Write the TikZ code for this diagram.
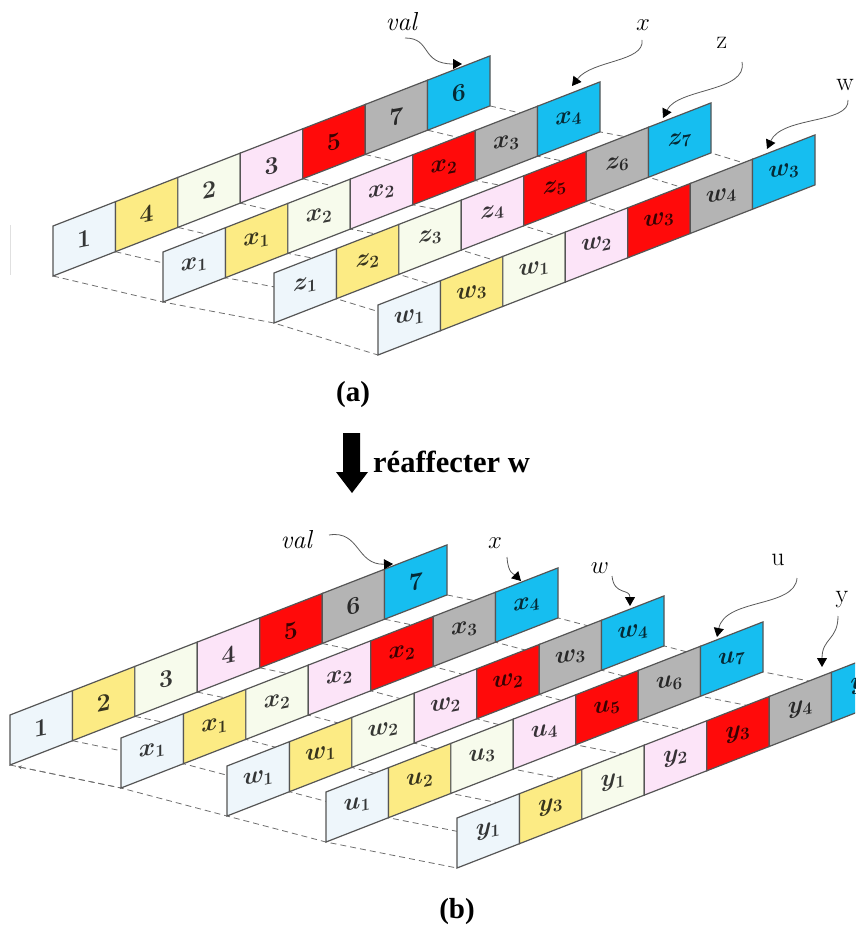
\documentclass[tikz,border=0pt]{standalone}
\usepackage{fontspec}
\newfontfamily\tnr{Liberation Serif}
\usetikzlibrary{arrows.meta}
\definecolor{c0}{HTML}{EEF6FB}
\definecolor{c1}{HTML}{FCEB84}
\definecolor{c2}{HTML}{F7FBEC}
\definecolor{c3}{HTML}{FCE4F8}
\definecolor{c4}{HTML}{FF0A0A}
\definecolor{c5}{HTML}{B4B4B4}
\definecolor{c6}{HTML}{16BEF0}
\definecolor{edge}{HTML}{555555}
\tikzset{
  cellbox/.style={draw=edge, line width=1.2pt, line join=miter},
  celltext/.style={font=\fontsize{24}{26}\selectfont\boldmath, inner sep=0pt, yslant=0.2},
  depth/.style={draw=edge!85, dash pattern=on 6pt off 4pt, line width=0.8pt},
  pointer/.style={draw=black!65, line width=0.8pt, -{Triangle[length=9pt,width=10pt,black]}},
  caption/.style={font=\tnr\bfseries\fontsize{29}{31}\selectfont, inner sep=0pt},
  lab/.style={font=\fontsize{26}{28}\selectfont, inner sep=0pt}
}
\def\cw{62.43}
\def\cr{24.3}
\def\ch{50}
\newcommand\striprow[4]{%
  \foreach \lab [count=\k from 0] in {#4}{%
    \pgfmathsetmacro\xa{#2+\k*\cw}%
    \pgfmathsetmacro\ya{#3-\k*\cr}%
    \pgfmathsetmacro\xb{\xa+\cw}%
    \pgfmathsetmacro\yb{\ya-\cr}%
    \filldraw[cellbox, fill=c\k] (\xa,\ya) -- (\xb,\yb) -- (\xb,\yb-\ch) -- (\xa,\ya-\ch) -- cycle;
    \node[celltext, text=c\k!22!black] (#1-\k) at ({(\xa+\xb)/2},{(\ya+\yb)/2-\ch/2}) {\lab};
  }}
\begin{document}
\begin{tikzpicture}[x=1pt,y=-1pt]
\useasboundingbox (0,0) rectangle (855,925);
\clip (0,0) rectangle (855,925);
% ---------------- (a) ----------------
\draw[black!12, line width=0.8pt] (10,225) -- (10,275);
\foreach \k in {0,...,7}{
  \draw[depth] ({53+\k*\cw},{276-\k*\cr}) -- ({163+\k*\cw},{302-\k*\cr})
     -- ({274+\k*\cw},{323-\k*\cr}) -- ({378+\k*\cw},{355-\k*\cr});
}
\striprow{a0}{53}{276}{$1$,$4$,$2$,$3$,$5$,$7$,$6$}
\striprow{a1}{163}{302}{$x_1$,$x_1$,$x_2$,$x_2$,$x_2$,$x_3$,$x_4$}
\striprow{a2}{274}{323}{$z_1$,$z_2$,$z_3$,$z_4$,$z_5$,$z_6$,$z_7$}
\striprow{a3}{378}{355}{$w_1$,$w_3$,$w_1$,$w_2$,$w_3$,$w_4$,$w_3$}
\node[lab] (avl) at (402,22) {\textit{val}};
\node[lab] (axl) at (643,25) {$x$};
\node[lab] (azl) at (722,43) {z};
\node[lab] (awl) at (845,85) {w};
\coordinate (avs) at (405,38);  \coordinate (avt) at (462,64);
\coordinate (axs) at (642,40);  \coordinate (axt) at (572,86);
\coordinate (azs) at (742,62);  \coordinate (azt) at (663,118);
\coordinate (aws) at (848,100); \coordinate (awt) at (767,149);
\draw[pointer] (avs) .. controls (432,38) and (420,64) .. (avt);
\draw[pointer] (axs) .. controls (645,62) and (592,60) .. (axt);
\draw[pointer] (azs) .. controls (748,92) and (678,88) .. (azt);
\draw[pointer] (aws) .. controls (850,124) and (782,116) .. (awt);
\node[caption] (capa) at (353,395) {(a)};
% ---------------- transition ----------------
\fill[black] (343,433) -- (360,433) -- (360,472) -- (368,472) -- (352,493) -- (336,472) -- (343,472) -- cycle;
\node[caption, anchor=west, font=\tnr\bfseries\fontsize{30.5}{32}\selectfont] (reaf) at (373,462) {réaffecter w};
% ---------------- (b) ----------------
\foreach \k in {0,...,7}{
  \draw[depth] ({10+\k*\cw},{765-\k*\cr}) -- ({121+\k*\cw},{788-\k*\cr})
     -- ({227+\k*\cw},{816-\k*\cr}) -- ({326+\k*\cw},{842-\k*\cr})
     -- ({457+\k*\cw},{868-\k*\cr});
}
\draw[depth, {Stealth[length=4pt,width=4pt]}-, shorten <=8pt] (10,765) -- (121,788);
\striprow{b0}{10}{765}{$1$,$2$,$3$,$4$,$5$,$6$,$7$}
\striprow{b1}{121}{788}{$x_1$,$x_1$,$x_2$,$x_2$,$x_2$,$x_3$,$x_4$}
\striprow{b2}{227}{816}{$w_1$,$w_1$,$w_2$,$w_2$,$w_2$,$w_3$,$w_4$}
\striprow{b3}{326}{842}{$u_1$,$u_2$,$u_3$,$u_4$,$u_5$,$u_6$,$u_7$}
\striprow{b4}{457}{868}{$y_1$,$y_3$,$y_1$,$y_2$,$y_3$,$y_4$,$y_5$}
\node[lab] (bvl) at (297,540) {\textit{val}};
\node[lab] (bxl) at (495,543) {$x$};
\node[lab] (bwl) at (600,568) {$w$};
\node[lab] (bul) at (778,560) {u};
\node[lab] (byl) at (842,600) {y};
\coordinate (bvs) at (329,535); \coordinate (bvt) at (393,564);
\coordinate (bxs) at (507,557); \coordinate (bxt) at (521,581);
\coordinate (bws) at (612,576); \coordinate (bwt) at (630,606);
\coordinate (bus) at (797,578); \coordinate (but) at (717,637);
\coordinate (bys) at (838,616); \coordinate (byt) at (822,667);
\draw[pointer] (bvs) .. controls (360,530) and (356,565) .. (bvt);
\draw[pointer] (bxs) .. controls (508,574) and (514,574) .. (bxt);
\draw[pointer] (bws) .. controls (614,596) and (630,588) .. (bwt);
\draw[pointer] (bus) .. controls (795,608) and (725,598) .. (but);
\draw[pointer] (bys) .. controls (838,640) and (822,638) .. (byt);
\node[caption] (capb) at (457,912) {(b)};
\end{tikzpicture}
\end{document}
